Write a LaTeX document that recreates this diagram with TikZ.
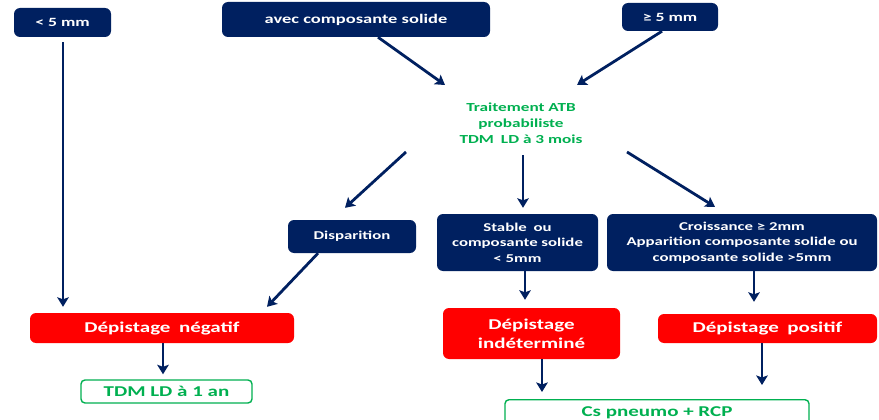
\documentclass[tikz,border=0pt]{standalone}
\usepackage{fontspec}
\setmainfont[FakeStretch=1.4]{Carlito}
\usetikzlibrary{arrows.meta,calc}
\definecolor{navy}{HTML}{002060}
\definecolor{alertred}{HTML}{FF0000}
\definecolor{okgreen}{HTML}{00B050}
\newcommand{\wsp}{\hspace{0.25em}}

\begin{document}
\begin{tikzpicture}[x=1pt,y=-1pt,
  navybox/.style={fill=navy, rounded corners=6pt, text=white, align=center, inner sep=0pt,
    font=\bfseries\fontsize{12}{15.5}\selectfont},
  redbox/.style={fill=alertred, rounded corners=6pt, text=white, align=center, inner sep=0pt,
    font=\bfseries\fontsize{15}{19}\selectfont},
  greenbox/.style={draw=okgreen, line width=1.4pt, rounded corners=4pt, text=okgreen, inner sep=0pt,
    font=\bfseries\fontsize{15}{18}\selectfont},
  greentext/.style={text=okgreen, align=center, inner sep=0pt,
    font=\bfseries\fontsize{12.3}{16}\selectfont},
  arr/.style={draw=navy, line width=2.8pt, -{Stealth[length=9.5pt,width=11.5pt,inset=2pt]}}]

\useasboundingbox (0,0) rectangle (879,420);
\fill[white] (0,0) rectangle (879,420);
\clip (0,0) rectangle (879,420);

% top row
\node[navybox, minimum width=97, minimum height=29, font=\bfseries\fontsize{12.6}{15}\selectfont] (lt5) at (62.5,22.5) {< 5 mm};
\node[navybox, minimum width=268, minimum height=35, font=\bfseries\fontsize{13.2}{15}\selectfont] (avec) at (356,19.5) {avec composante solide};
\node[navybox, minimum width=96, minimum height=28, font=\bfseries\fontsize{12.6}{15}\selectfont] (ge5) at (670,17) {≥ 5 mm};

% treatment
\node[greentext] (trait) at (521,123) {Traitement ATB\\probabiliste\\TDM\wsp{} LD à 3 mois};

% outcomes after 3 months
\node[navybox, minimum width=128, minimum height=33] (disp) at (352,236.5) {Disparition};
\node[navybox, minimum width=161, minimum height=57] (stable) at (517.5,242.5) {Stable\wsp{} ou\\composante solide\\< 5mm};
\node[navybox, minimum width=270, minimum height=57] (crois) at (742,242.5) {Croissance ≥ 2mm\\Apparition composante solide ou\\composante solide >5mm};

% screening results
\node[redbox, minimum width=264, minimum height=30] (neg) at (162,328) {Dépistage\wsp{} négatif};
\node[redbox, minimum width=177, minimum height=51] (indet) at (531.5,333.5) {Dépistage\\indéterminé};
\node[redbox, minimum width=219, minimum height=29] (pos) at (767.5,328.5) {Dépistage\wsp{} positif};

% follow-up
\node[greenbox, minimum width=171, minimum height=23] (tdm1) at (166.5,391.5) {TDM LD à 1 an};
\node[greenbox, minimum width=304, minimum height=26, anchor=north] (cs) at (657,399) {Cs pneumo + RCP};

% connectors
\draw[arr] ($(avec.south)+(22,0)$) -- ($(trait)+(-76,-38)$);
\draw[arr] ($(ge5.south)+(-8,0)$) -- ($(trait)+(56,-38)$);
\draw[arr] ($(lt5.south)+(0.5,5)$) -- ($(neg.north -| lt5.south)+(0.5,-6)$);
\draw[arr] ($(trait)+(-115,29)$) -- ($(disp.north)+(-7,-12)$);
\draw[arr] ($(trait)+(2,32)$) -- ($(stable.north)+(5.5,-6)$);
\draw[arr] ($(trait)+(106,29)$) -- ($(crois.north)+(-27,-7)$);
\draw[arr] ($(disp.south)+(-34,0)$) -- ($(neg.north)+(105,-6)$);
\draw[arr] ($(neg.south)+(1,0)$) -- ($(tdm1.north)+(-3.5,-5)$);
\draw[arr] ($(stable.south)+(7.5,0)$) -- ($(indet.north)+(-6.5,-8)$);
\draw[arr] ($(indet.south)+(10.5,0)$) -- ($(cs.north)+(-115,-7)$);
\draw[arr] ($(crois.south)+(12,0)$) -- ($(pos.north)+(-13.5,-12)$);
\draw[arr] ($(pos.south)+(-5.5,0)$) -- ($(cs.north)+(105,-14)$);
\end{tikzpicture}
\end{document}
